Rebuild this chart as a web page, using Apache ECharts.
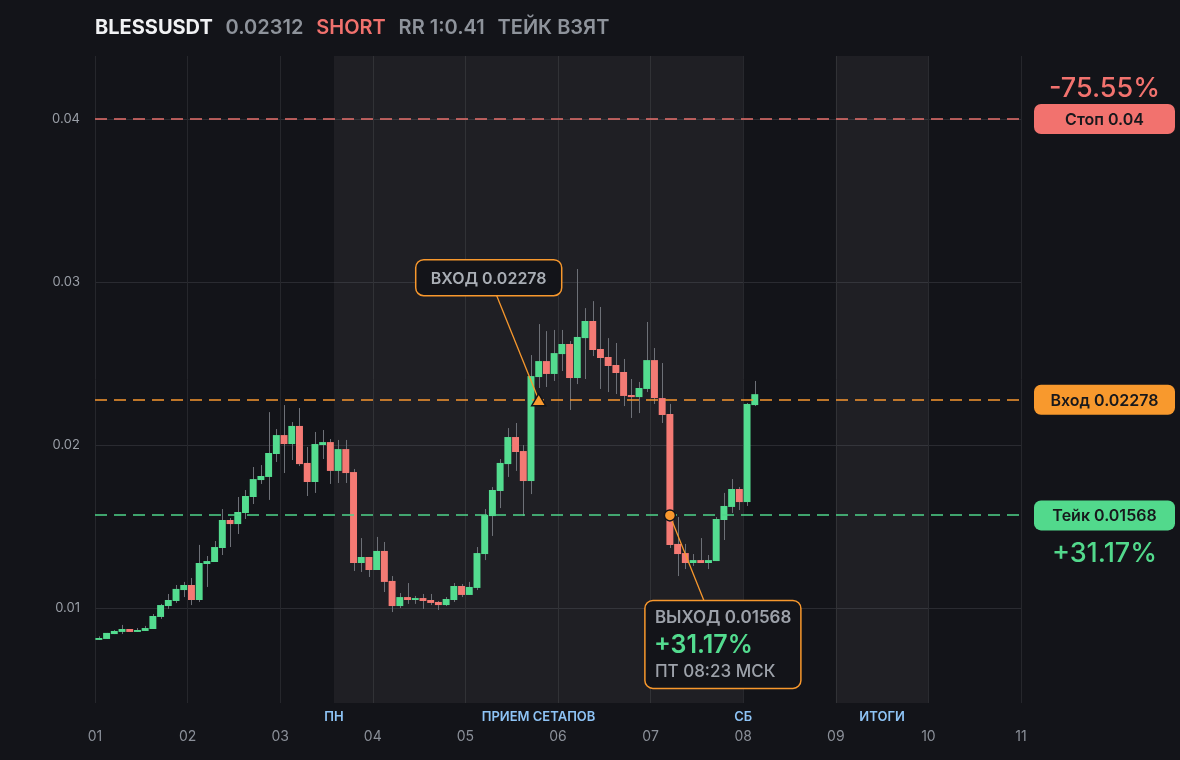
<!DOCTYPE html>
<html>
<head>
<meta charset="utf-8">
<script src="https://cdn.jsdelivr.net/npm/echarts@6/dist/echarts.min.js"></script>
<style>
html,body{margin:0;padding:0;background:#131419;}
#chart{width:1180px;height:760px;}
</style>
</head>
<body>
<div id="chart"></div>
<script>
// ---------- header ----------
const symbolName = 'BLESSUSDT';
const lastPrice = '0.02312';
const sideText = 'SHORT';
const rrText = 'RR 1:0.41';
const statusText = 'ТЕЙК ВЗЯТ';

// ---------- candles (2h candles starting at day 01) ----------
const startDay = 1;
const candleDays = 2 / 24;
const openP = [
  0.00804,0.0081,0.0084,0.00853,0.00871,0.00853,0.00859,0.00871,0.00945,0.01012,
  0.01043,0.0111,0.01141,0.01049,0.0127,0.01282,0.01368,0.0154,0.01515,0.01583,
  0.01681,0.01785,0.01804,0.01945,0.02061,0.02006,0.02117,0.0189,0.01773,0.02,
  0.02018,0.01841,0.01975,0.01834,0.01276,0.01313,0.01233,0.0135,0.01166,0.01012,
  0.01067,0.01049,0.01061,0.01049,0.01037,0.01018,0.01049,0.01135,0.0108,0.01123,
  0.01331,0.01564,0.01718,0.01883,0.02049,0.01963,0.01779,0.02417,0.02515,0.02436,
  0.02558,0.0262,0.02411,0.02656,0.02761,0.02589,0.0254,0.02491,0.02448,0.02307,
  0.02294,0.02344,0.02521,0.02288,0.0219,0.01393,0.01337,0.01276,0.01294,0.01276,
  0.01288,0.0154,0.0162,0.0173,0.0165,0.02245
];
const closeP = [
  0.00816,0.00847,0.00859,0.00871,0.00853,0.00865,0.00877,0.00951,0.01018,0.01049,
  0.01117,0.01141,0.01049,0.01276,0.01288,0.01374,0.0154,0.01515,0.01589,0.01687,
  0.01791,0.0181,0.01951,0.02061,0.02006,0.02117,0.01883,0.01773,0.02006,0.02018,
  0.01841,0.01975,0.01828,0.01276,0.01313,0.01233,0.0135,0.0116,0.01012,0.01067,
  0.01049,0.01061,0.01043,0.01031,0.01018,0.01055,0.01135,0.0108,0.01129,0.01337,
  0.01571,0.01724,0.0189,0.02049,0.01957,0.01779,0.02423,0.02515,0.02436,0.02564,
  0.0262,0.02411,0.02663,0.02761,0.02583,0.02534,0.02485,0.02442,0.02301,0.02294,
  0.0235,0.02521,0.02288,0.02184,0.01387,0.01331,0.01276,0.01294,0.01276,0.01294,
  0.01546,0.01626,0.0173,0.0165,0.02252,0.02312
];
const lowP = [
  0.00804,0.0081,0.0084,0.0084,0.00853,0.00853,0.00859,0.00871,0.00933,0.00994,
  0.01031,0.01067,0.01018,0.01037,0.01129,0.01282,0.01325,0.01374,0.01454,0.01546,
  0.01638,0.01761,0.01663,0.01896,0.01828,0.01908,0.01871,0.01687,0.01706,0.01914,
  0.01761,0.01767,0.01767,0.01227,0.01221,0.0119,0.01233,0.01098,0.00975,0.01,
  0.01025,0.01025,0.00994,0.01018,0.00988,0.01012,0.01037,0.01067,0.0108,0.0111,
  0.01294,0.01442,0.01613,0.01804,0.01841,0.01564,0.01699,0.0235,0.02356,0.02393,
  0.02454,0.02215,0.02374,0.02405,0.02546,0.02344,0.02325,0.02313,0.02239,0.02166,
  0.02196,0.02325,0.02252,0.02135,0.01368,0.01196,0.01239,0.01258,0.01276,0.01239,
  0.01288,0.01417,0.01583,0.01601,0.01626,0.02239
];
const highP = [
  0.00826,0.00847,0.00865,0.00896,0.00871,0.00877,0.0089,0.00963,0.01025,0.01086,
  0.01141,0.0116,0.01184,0.01387,0.01319,0.01411,0.01607,0.01552,0.01681,0.01724,
  0.01865,0.01877,0.02202,0.02098,0.02245,0.02141,0.02227,0.01988,0.0208,0.02092,
  0.02037,0.02031,0.02031,0.01853,0.01429,0.01313,0.01436,0.01405,0.01196,0.01092,
  0.01153,0.01074,0.01086,0.01086,0.01043,0.01067,0.01153,0.01147,0.0116,0.01374,
  0.01607,0.01742,0.01914,0.02104,0.02135,0.02,0.02552,0.02742,0.02699,0.02706,
  0.02706,0.02638,0.0308,0.0284,0.02883,0.02847,0.02656,0.02626,0.02528,0.02405,
  0.02387,0.02755,0.02595,0.02503,0.02252,0.01558,0.01393,0.01331,0.01429,0.01325,
  0.01558,0.01706,0.01791,0.01742,0.02258,0.02393
];

// ---------- trade levels ----------
const levelNames = ['Стоп', 'Вход', 'Тейк'];
const levelPrices = [0.04, 0.02278, 0.01568];
const levelPct = ['-75.55%', '', '+31.17%'];
const entryIndex = 57;
const exitIndex = 74;
const entryPrice = 0.02278;
const exitPrice = 0.01568;
const exitResult = '+31.17%';
const exitTime = 'ПТ 08:23 МСК';

// ---------- sessions ----------
const zoneStart = [3.58, 9];
const zoneEnd = [8, 10];
const zoneNames = ['ПРИЕМ СЕТАПОВ', 'ИТОГИ'];
const dayMarkX = [3.58, 8];
const dayMarkText = ['ПН', 'СБ'];

// ---------- axes ----------
const xMin = 1, xMax = 11;
const yMin = 0.00417, yMax = 0.04387;

// ---------- styling ----------
const BG = '#131419';
const GREEN = '#53dc8f';
const RED = '#f47a74';
const ORANGE = '#f8982d';
const LEVEL_BG = ['#f2726e', '#f8992d', '#52d98c'];
const LEVEL_LINE = ['#e7706c', '#f7962f', '#4fd489'];
const FONT = 'Inter, "Noto Sans", sans-serif';

const candles = openP.map((o, i) => [startDay + (i + 0.5) * candleDays, o, closeP[i], lowP[i], highP[i]]);
const entryX = startDay + (entryIndex + 0.5) * candleDays;
const exitX = startDay + (exitIndex + 0.5) * candleDays;

const chart = echarts.init(document.getElementById('chart'), null, {renderer: 'canvas'});

function renderCandle(params, api) {
  const x = api.value(0), o = api.value(1), c = api.value(2), l = api.value(3), h = api.value(4);
  const pO = api.coord([x, o]), pC = api.coord([x, c]), pL = api.coord([x, l]), pH = api.coord([x, h]);
  const w = api.size([candleDays, 0])[0] * 0.9;
  const top = Math.min(pO[1], pC[1]);
  const hh = Math.max(Math.abs(pO[1] - pC[1]), 1.5);
  const wx = Math.round(pO[0]) + 0.5;
  return {
    type: 'group',
    children: [
      {type: 'line', shape: {x1: wx, y1: pL[1], x2: wx, y2: pH[1]}, style: {stroke: '#6d7077', lineWidth: 1}},
      {type: 'rect', shape: {x: pO[0] - w / 2, y: top, width: w, height: hh}, style: {fill: c >= o ? GREEN : RED}}
    ]
  };
}

function renderEntry(params, api) {
  const p = api.coord([api.value(0), api.value(1)]);
  const bw = 146, bh = 36;
  const bx = p[0] - 123, by = p[1] - 140;
  return {
    type: 'group',
    children: [
      {type: 'line', shape: {x1: p[0] - 42, y1: by + bh, x2: p[0], y2: p[1]}, style: {stroke: ORANGE, lineWidth: 1.3}},
      {type: 'rect', shape: {x: bx, y: by, width: bw, height: bh, r: 8}, style: {fill: BG, stroke: ORANGE, lineWidth: 1.5}},
      {type: 'text', style: {text: 'ВХОД ' + entryPrice, x: bx + bw / 2, y: by + bh / 2 + 1, align: 'center', verticalAlign: 'middle', fill: '#a9aeb5', font: '600 16px ' + FONT}},
      {type: 'polygon', shape: {points: [[p[0], p[1] - 6], [p[0] + 7, p[1] + 6], [p[0] - 7, p[1] + 6]]}, style: {fill: ORANGE, stroke: BG, lineWidth: 1.5}}
    ]
  };
}

function renderExit(params, api) {
  const p = api.coord([api.value(0), api.value(1)]);
  const bw = 156, bh = 88;
  const bx = p[0] - 25, by = p[1] + 85;
  return {
    type: 'group',
    children: [
      {type: 'line', shape: {x1: p[0], y1: p[1], x2: p[0] + 34, y2: by}, style: {stroke: ORANGE, lineWidth: 1.3}},
      {type: 'rect', shape: {x: bx, y: by, width: bw, height: bh, r: 8}, style: {fill: BG, stroke: ORANGE, lineWidth: 1.5}},
      {type: 'text', style: {text: 'ВЫХОД ' + exitPrice, x: bx + 10, y: by + 17, align: 'left', verticalAlign: 'middle', fill: '#9da2aa', font: '600 17px ' + FONT}},
      {type: 'text', style: {text: exitResult, x: bx + 9, y: by + 45, align: 'left', verticalAlign: 'middle', fill: GREEN, font: '600 25px ' + FONT}},
      {type: 'text', style: {text: exitTime, x: bx + 10, y: by + 71, align: 'left', verticalAlign: 'middle', fill: '#9da2aa', font: '500 17px ' + FONT}},
      {type: 'circle', shape: {cx: p[0], cy: p[1], r: 5.5}, style: {fill: ORANGE, stroke: BG, lineWidth: 1.5}}
    ]
  };
}

function renderLevel(params, api) {
  const i = params.dataIndex;
  const v = api.value(1);
  const p = api.coord([xMax, v]);
  const p0 = api.coord([xMin, v]);
  const bw = 141, bh = 30;
  const bx = p[0] + 13, by = p[1] - bh / 2;
  const ly = Math.round(p[1]);
  const children = [
    {type: 'line', shape: {x1: p0[0], y1: ly, x2: p[0], y2: ly}, style: {stroke: LEVEL_LINE[i], lineWidth: 1.5, lineDash: [12, 7]}},
    {type: 'rect', shape: {x: bx, y: by, width: bw, height: bh, r: 7}, style: {fill: LEVEL_BG[i]}},
    {type: 'text', style: {text: levelNames[i] + ' ' + levelPrices[i], x: bx + bw / 2, y: p[1] + 1, align: 'center', verticalAlign: 'middle', fill: '#17181c', font: '600 16px ' + FONT}}
  ];
  if (levelPct[i]) {
    const dy = i === 0 ? -30 : 38;
    children.push({type: 'text', style: {text: levelPct[i], x: bx + bw / 2, y: p[1] + dy, align: 'center', verticalAlign: 'middle', fill: LEVEL_BG[i], font: '500 27px ' + FONT}});
  }
  return {type: 'group', children: children};
}

function renderDayMark(params, api) {
  const i = params.dataIndex;
  const p = api.coord([api.value(0), yMin]);
  return {type: 'text', style: {text: dayMarkText[i], x: p[0], y: p[1] + 8, align: 'center', verticalAlign: 'top', fill: '#8ec4f6', font: '600 13px ' + FONT}};
}

const option = {
  backgroundColor: BG,
  animation: false,
  title: {
    left: 95, top: 18, padding: 0,
    text: '{w|' + symbolName + '}{s|   }{g|' + lastPrice + '}{s|   }{r|' + sideText + '}{s|   }{g|' + rrText + '}{s|   }{g|' + statusText + '}',
    textStyle: {
      fontSize: 20, fontFamily: FONT, fontWeight: 600, color: '#8e939b',
      rich: {
        w: {fontSize: 20, fontFamily: FONT, fontWeight: 700, color: '#f1f2f4'},
        g: {fontSize: 20, fontFamily: FONT, fontWeight: 600, color: '#8e939b'},
        r: {fontSize: 20, fontFamily: FONT, fontWeight: 600, color: '#f0716d'},
        s: {fontSize: 17, fontFamily: FONT, fontWeight: 600, color: '#8e939b'}
      }
    }
  },
  grid: {left: 95, right: 159, top: 56, bottom: 57},
  xAxis: {
    type: 'value', min: xMin, max: xMax, interval: 1,
    axisLine: {show: false}, axisTick: {show: false},
    axisLabel: {color: '#8b9099', fontSize: 14, fontFamily: FONT, margin: 27, formatter: v => String(v).padStart(2, '0')},
    splitLine: {show: true, lineStyle: {color: '#26272c', width: 1}}
  },
  yAxis: {
    type: 'value', min: yMin, max: yMax,
    axisLine: {show: false}, axisTick: {show: false},
    axisLabel: {color: '#9a9fa7', fontSize: 13, fontFamily: FONT, margin: 15, showMinLabel: false, showMaxLabel: false, formatter: v => v.toFixed(2)},
    splitLine: {show: true, showMinLine: false, showMaxLine: false, lineStyle: {color: '#2a2b31', width: 1}}
  },
  series: [
    {
      type: 'custom', name: 'candles', data: candles, renderItem: renderCandle,
      encode: {x: 0, y: [1, 2, 3, 4]}, z: 3,
      markArea: {
        silent: true,
        itemStyle: {color: 'rgba(255,255,255,0.05)'},
        label: {show: true, position: 'bottom', distance: 8, color: '#8ec4f6', fontSize: 13, fontWeight: 600, fontFamily: FONT},
        data: zoneNames.map((n, i) => [{xAxis: zoneStart[i], name: n}, {xAxis: zoneEnd[i]}])
      }
    },
    {type: 'custom', name: 'levels', data: levelPrices.map(v => [xMax, v]), renderItem: renderLevel, encode: {x: 0, y: 1}, clip: false, z: 5},
    {type: 'custom', name: 'entry', data: [[entryX, entryPrice]], renderItem: renderEntry, encode: {x: 0, y: 1}, clip: false, z: 6},
    {type: 'custom', name: 'exit', data: [[exitX, exitPrice]], renderItem: renderExit, encode: {x: 0, y: 1}, clip: false, z: 6},
    {type: 'custom', name: 'daymarks', data: dayMarkX.map(x => [x, yMin]), renderItem: renderDayMark, encode: {x: 0, y: 1}, clip: false, z: 4}
  ]
};
chart.setOption(option);
</script>
</body>
</html>
